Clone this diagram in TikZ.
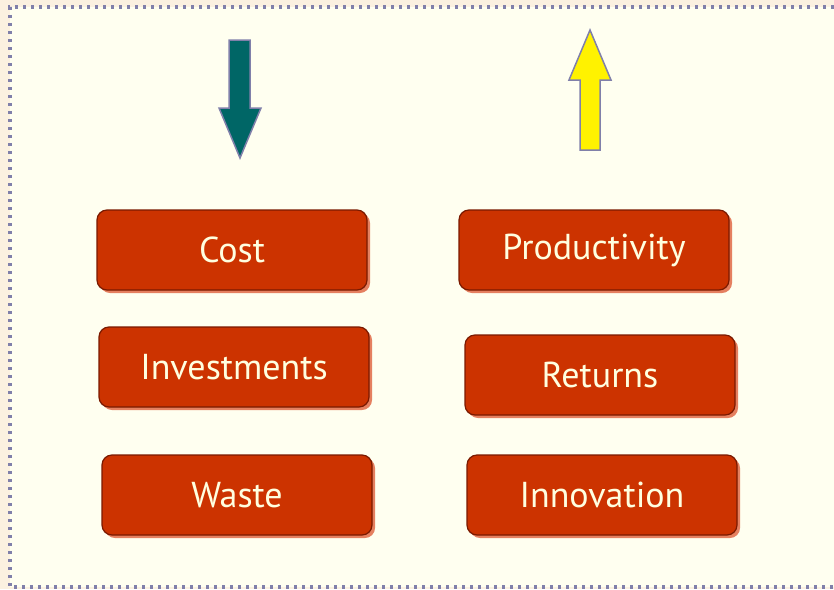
\documentclass[tikz,border=0pt]{standalone}
\usepackage{fontspec}
\setmainfont{PT Sans}
\usetikzlibrary{shadows}
\definecolor{boxred}{HTML}{CC3300}
\definecolor{boxedge}{HTML}{7A1A00}
\definecolor{boxshade}{HTML}{E58060}
\definecolor{slide}{HTML}{FFFFF0}
\definecolor{outside}{HTML}{FBF1E0}
\definecolor{frame}{HTML}{8080AA}
\definecolor{teal}{HTML}{006666}
\definecolor{textcream}{HTML}{FFFFE0}
\tikzset{
  termbox/.style={rectangle, rounded corners=10pt, fill=boxred, draw=boxedge, line width=1.2pt,
    minimum width=270pt, minimum height=80pt, text=textcream,
    font=\fontsize{36}{40}\selectfont,
    general shadow={fill=boxshade, shadow xshift=3pt, shadow yshift=-3pt}},
  arrowshape/.style={draw=frame, line width=1.5pt, line join=miter}
}
\begin{document}
\begin{tikzpicture}[x=1pt, y=-1pt]
      \useasboundingbox (0,0) rectangle (834,589);
      \fill [outside] (0,0) rectangle (834,589);
      \fill [slide] (10,7) rectangle (834,587);
      \draw [frame, line width=3.5pt, dash pattern=on 3pt off 5pt] (842,7) -- (10,7) -- (10,587) -- (842,587);
      % direction arrows
      \draw [arrowshape, fill=teal] (229,40) -- (250,40) -- (250,108) -- (261,108) -- (240,158) -- (219,108) -- (229,108) -- cycle;
      \draw [arrowshape, fill=yellow] (580,150) -- (600,150) -- (600,80) -- (611,80) -- (590,30) -- (569,80) -- (580,80) -- cycle;
      % terms
      \node [termbox] (cost) at (232, 250) {Cost};
      \node [termbox] (investments) at (234, 367) {Investments};
      \node [termbox] (waste) at (237, 495) {Waste};
      \node [termbox] (productivity) at (594, 250) {Productivity};
      \node [termbox] (returns) at (600, 375) {Returns};
      \node [termbox] (innovation) at (602, 495) {Innovation};
    \end{tikzpicture}
\end{document}
